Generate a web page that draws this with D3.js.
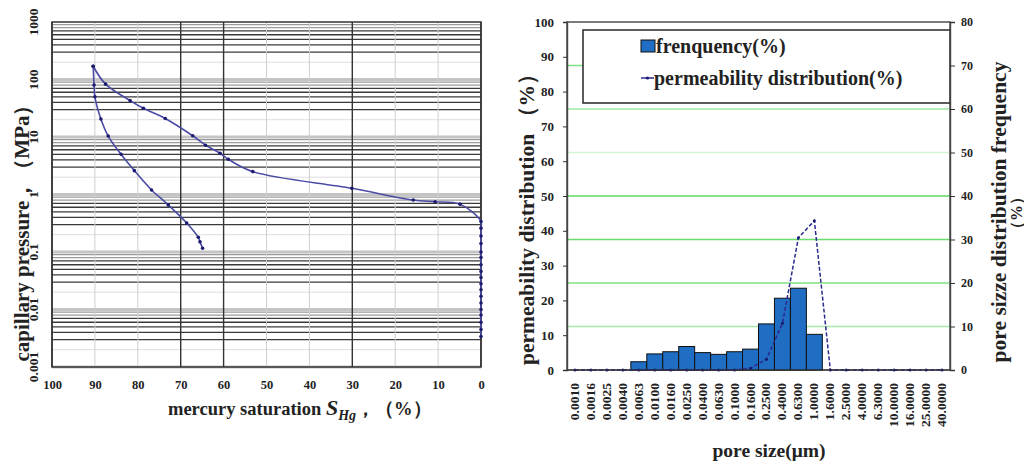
<!DOCTYPE html>
<html>
<head>
<meta charset="utf-8">
<script src="https://cdn.jsdelivr.net/npm/d3@7/dist/d3.min.js"></script>
<style>
  body { margin: 0; background: #fff; }
  text { font-family: "Liberation Serif", "Times New Roman", serif; font-weight: bold; fill: #222; }
</style>
</head>
<body>
<svg id="chart" width="1024" height="465"></svg>
<script>
// ---- left chart data (capillary pressure curve) ----
const saturationTicks = [100, 90, 80, 70, 60, 50, 40, 30, 20, 10, 0]
const darkSaturation = [100, 70, 60, 30, 0]
const pressureTicks = [1000, 100, 10, 1, 0.1, 0.01, 0.001]
const pressureTickLabels = ['1000', '100', '10', '1', '0.1', '0.01', '0.001']

// intrusion: saturation (%) vs pressure (MPa)
const intrusionSat = [0, 0, 0, 0, 0, 0, 0, 0, 0, 0, 0, 0, 0, 0, 0, 0, 0, 0, 4.9, 10.7, 15.8, 30.1, 53.2, 58.9, 60.8, 64.2, 67.2, 73.6, 78.7, 81.8, 87.5, 90.4]
const intrusionP = [0.0034, 0.0045, 0.006, 0.008, 0.01, 0.013, 0.017, 0.022, 0.028, 0.036, 0.046, 0.06, 0.08, 0.1, 0.14, 0.19, 0.26, 0.34, 0.68, 0.75, 0.8, 1.28, 2.5, 4.1, 5.2, 7.2, 10.5, 21, 31.6, 43, 83, 170]
// withdrawal
const withdrawalSat = [90.4, 90.2, 90.0, 88.6, 86.9, 83.9, 80.8, 76.8, 72.9, 68.6, 65.9, 65.5, 64.9]
const withdrawalP = [170, 80, 50, 20.6, 10.4, 5, 2.6, 1.2, 0.66, 0.32, 0.18, 0.15, 0.116]

// ---- right chart data (pore size distribution) ----
const poreSizes = ['0.0010', '0.0016', '0.0025', '0.0040', '0.0063', '0.0100', '0.0160', '0.0250', '0.0400', '0.0630', '0.1000', '0.1600', '0.2500', '0.4000', '0.6300', '1.0000', '1.6000', '2.5000', '4.0000', '6.3000', '10.0000', '16.0000', '25.0000', '40.0000']
const frequency = [0, 0, 0, 0, 1.9, 3.7, 4.2, 5.4, 4.0, 3.6, 4.2, 4.8, 10.6, 16.5, 18.8, 8.2, 0, 0, 0, 0, 0, 0, 0, 0]
const permeability = [0, 0, 0, 0, 0, 0, 0, 0, 0, 0, 0, 0.5, 3.1, 13.4, 38.0, 42.9, 0, 0, 0, 0, 0, 0, 0, 0]
const permeabilityTicks = [0, 10, 20, 30, 40, 50, 60, 70, 80, 90, 100]
const frequencyTicks = [0, 10, 20, 30, 40, 50, 60, 70, 80]

const svg = d3.select('#chart')
svg.append('rect').attr('width', 1024).attr('height', 465).attr('fill', '#fff')

// ================= left chart =================
const left = { x0: 52, x1: 481, y0: 22, y1: 367 }
const xS = d3.scaleLinear([100, 0], [left.x0, left.x1])
const yP = d3.scaleLog([0.001, 1000], [left.y1, left.y0])

const lg = svg.append('g').attr('id', 'left')

// horizontal grid: decades + minor lines
const minorStyle = (m) => {
  if (m === 1) return { c: '#c4c4c4', w: 3 }
  if (m === 2) return { c: '#dedede', w: 1 }
  if (m >= 8) return { c: '#9a9a9a', w: 1.2 }
  return { c: '#3a3a3a', w: 1.3 }
}
const hLines = []
for (let k = -3; k < 3; k++) {
  for (let m = 1; m <= 9; m++) hLines.push({ v: m * Math.pow(10, k), m })
}
lg.append('g')
  .selectAll('line')
  .data(hLines)
  .join('line')
  .attr('x1', left.x0)
  .attr('x2', left.x1)
  .attr('y1', (d) => yP(d.v))
  .attr('y2', (d) => yP(d.v))
  .attr('stroke', (d) => minorStyle(d.m).c)
  .attr('stroke-width', (d) => minorStyle(d.m).w)

// vertical grid
lg.append('g')
  .selectAll('line')
  .data(saturationTicks)
  .join('line')
  .attr('x1', (d) => xS(d))
  .attr('x2', (d) => xS(d))
  .attr('y1', left.y0)
  .attr('y2', left.y1)
  .attr('stroke', (d) => (darkSaturation.includes(d) ? '#333' : '#cfcfcf'))
  .attr('stroke-width', (d) => (darkSaturation.includes(d) ? 1.4 : 1))

// frame
lg.append('rect')
  .attr('x', left.x0)
  .attr('y', left.y0)
  .attr('width', left.x1 - left.x0)
  .attr('height', left.y1 - left.y0)
  .attr('fill', 'none')
  .attr('stroke', '#333')
  .attr('stroke-width', 1.5)

// curves
const curveLine = d3
  .line()
  .x((d) => xS(d[0]))
  .y((d) => yP(d[1]))
  .curve(d3.curveCatmullRom)
const intrusion = intrusionSat.map((s, i) => [s, intrusionP[i]])
const withdrawal = withdrawalSat.map((s, i) => [s, withdrawalP[i]])
;[intrusion, withdrawal].forEach((pts) => {
  lg.append('path')
    .attr('d', curveLine(pts))
    .attr('fill', 'none')
    .attr('stroke', '#4b4ba6')
    .attr('stroke-width', 1.6)
  lg.append('g')
    .selectAll('circle')
    .data(pts)
    .join('circle')
    .attr('cx', (d) => xS(d[0]))
    .attr('cy', (d) => yP(d[1]))
    .attr('r', 1.8)
    .attr('fill', '#1c1c6e')
})

// y tick labels (rotated)
lg.append('g')
  .selectAll('text')
  .data(pressureTicks)
  .join('text')
  .attr('transform', (d) => `translate(38,${yP(d)}) rotate(-90)`)
  .attr('text-anchor', 'middle')
  .attr('font-size', 13.5)
  .text((d, i) => pressureTickLabels[i])

// x axis
lg.append('g')
  .attr('transform', `translate(0,${left.y1})`)
  .call(d3.axisBottom(xS).tickValues(saturationTicks).tickSize(0).tickPadding(13))
  .call((g) => g.select('.domain').remove())
  .call((g) => g.selectAll('text').attr('font-size', 12.5).attr('font-family', null).attr('fill', '#222'))

// axis titles
lg.append('text')
  .attr('transform', 'translate(29,228) rotate(-90)')
  .attr('text-anchor', 'middle')
  .attr('font-size', 21)
  .text('capillary pressure，（MPa）')

const xt = lg.append('text').attr('x', 168).attr('y', 415).attr('font-size', 18.5)
xt.append('tspan').text('mercury saturation ')
xt.append('tspan').attr('font-style', 'italic').attr('font-size', 22).text('S')
xt.append('tspan').attr('font-style', 'italic').attr('font-size', 14).attr('dy', 5).text('Hg')
xt.append('tspan').attr('dy', -5).text('，（%）')

// ================= right chart =================
const right = { x0: 567, x1: 950, y0: 22, y1: 370 }
const xB = d3.scaleBand(poreSizes, [right.x0, right.x1])
const yL = d3.scaleLinear([0, 100], [right.y1, right.y0])
const yR = d3.scaleLinear([0, 80], [right.y1, right.y0])

const rg = svg.append('g').attr('id', 'right')

// green gridlines on the right-axis ticks
const gridColor = { 10: '#a8eaa8', 20: '#7fe07f', 30: '#6cdc6c', 40: '#5ed85e', 50: '#d2f5d2', 60: '#9fe89f', 70: '#7ee07e' }
rg.append('g')
  .selectAll('line')
  .data(frequencyTicks.filter((d) => d > 0 && d < 80))
  .join('line')
  .attr('x1', right.x0)
  .attr('x2', right.x1)
  .attr('y1', (d) => yR(d))
  .attr('y2', (d) => yR(d))
  .attr('stroke', (d) => gridColor[d])
  .attr('stroke-width', 1.6)

// plot frame
rg.append('rect')
  .attr('x', right.x0)
  .attr('y', right.y0)
  .attr('width', right.x1 - right.x0)
  .attr('height', right.y1 - right.y0)
  .attr('fill', 'none')
  .attr('stroke', '#444')
  .attr('stroke-width', 1.4)

// legend box
const legend = rg.append('g').attr('id', 'legend')
legend.append('rect')
  .attr('x', 583)
  .attr('y', 30)
  .attr('width', right.x1 - 583)
  .attr('height', 73)
  .attr('fill', '#fff')
  .attr('stroke', '#333')
  .attr('stroke-width', 1.6)
legend.append('rect')
  .attr('x', 641).attr('y', 40).attr('width', 14).attr('height', 12)
  .attr('fill', '#1f6ec4').attr('stroke', '#111').attr('stroke-width', 1)
legend.append('text').attr('x', 656).attr('y', 53).attr('font-size', 20).text('frenquency(%)')
legend.append('line')
  .attr('x1', 641).attr('x2', 654).attr('y1', 78).attr('y2', 78)
  .attr('stroke', '#2a2a8c').attr('stroke-width', 1.5)
legend.append('circle').attr('cx', 647.5).attr('cy', 78).attr('r', 1.6).attr('fill', '#1a1a70')
legend.append('text').attr('x', 654).attr('y', 85).attr('font-size', 20).text('permeability distribution(%)')

// bars
rg.append('g')
  .selectAll('rect')
  .data(poreSizes)
  .join('rect')
  .attr('x', (d) => xB(d))
  .attr('width', xB.bandwidth())
  .attr('y', (d, i) => yR(frequency[i]))
  .attr('height', (d, i) => right.y1 - yR(frequency[i]))
  .attr('fill', '#1f6ec4')
  .attr('stroke', '#111')
  .attr('stroke-width', (d, i) => (frequency[i] > 0 ? 1 : 0))

// permeability line
const permLine = d3
  .line()
  .x((d, i) => xB(poreSizes[i]) + xB.bandwidth() / 2)
  .y((d) => yL(d))
rg.append('path')
  .attr('d', permLine(permeability))
  .attr('fill', 'none')
  .attr('stroke', '#2a2a8c')
  .attr('stroke-width', 1.5)
  .attr('stroke-dasharray', '4,2')
rg.append('g')
  .selectAll('circle')
  .data(permeability)
  .join('circle')
  .attr('cx', (d, i) => xB(poreSizes[i]) + xB.bandwidth() / 2)
  .attr('cy', (d) => yL(d))
  .attr('r', 1.5)
  .attr('fill', '#1a1a70')

// left axis
rg.append('g')
  .attr('transform', `translate(${right.x0},0)`)
  .call(d3.axisLeft(yL).tickValues(permeabilityTicks).tickSize(4).tickPadding(9))
  .call((g) => g.select('.domain').attr('stroke', '#444').attr('stroke-width', 1.4))
  .call((g) => g.selectAll('.tick line').attr('stroke', '#333'))
  .call((g) => g.selectAll('text').attr('font-size', 13).attr('font-family', null).attr('fill', '#222'))

// right axis
rg.append('g')
  .attr('transform', `translate(${right.x1},0)`)
  .call(d3.axisRight(yR).tickValues(frequencyTicks).tickSize(5).tickPadding(6))
  .call((g) => g.select('.domain').attr('stroke', '#444').attr('stroke-width', 1.4))
  .call((g) => g.selectAll('.tick line').attr('stroke', '#333'))
  .call((g) => g.selectAll('text').attr('font-size', 12).attr('font-family', null).attr('fill', '#222'))

// bottom axis line
rg.append('line')
  .attr('x1', right.x0).attr('x2', right.x1)
  .attr('y1', right.y1).attr('y2', right.y1)
  .attr('stroke', '#333').attr('stroke-width', 1.2)

// x tick labels (rotated)
rg.append('g')
  .selectAll('text')
  .data(poreSizes)
  .join('text')
  .attr('transform', (d) => `translate(${xB(d) + xB.bandwidth() / 2 + 4},383) rotate(-90)`)
  .attr('text-anchor', 'end')
  .attr('font-size', 13.5)
  .text((d) => d)

// titles
rg.append('text')
  .attr('transform', 'translate(534,214) rotate(-90)')
  .attr('text-anchor', 'middle')
  .attr('font-size', 21.5)
  .text('permeability distribution （%）')
rg.append('text')
  .attr('transform', 'translate(1006,212) rotate(-90)')
  .attr('text-anchor', 'middle')
  .attr('font-size', 21.5)
  .text('pore sizze distribution frequency')
rg.append('text')
  .attr('transform', 'translate(1022,213) rotate(-90)')
  .attr('text-anchor', 'middle')
  .attr('font-size', 16)
  .text('（%）')
rg.append('text')
  .attr('x', 769)
  .attr('y', 457)
  .attr('text-anchor', 'middle')
  .attr('font-size', 19.5)
  .text('pore size(μm)')
</script>
</body>
</html>
